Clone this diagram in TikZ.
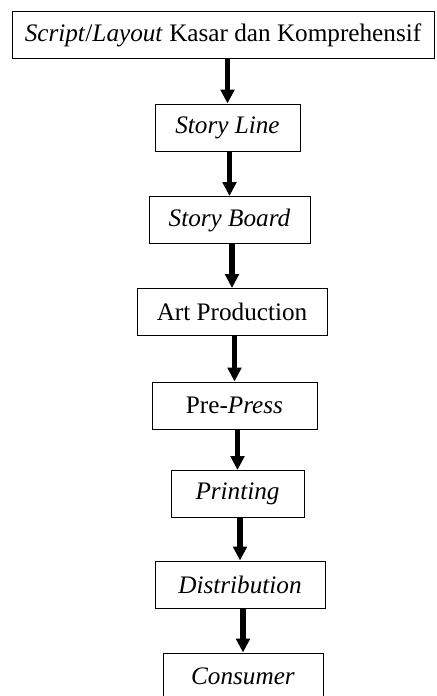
\documentclass[tikz,border=0pt]{standalone}
\usepackage{fontspec}
\setmainfont{Liberation Serif}
\usetikzlibrary{arrows.meta}

\tikzset{
	box/.style={draw, line width=0.5pt, inner sep=0pt, minimum height=23.5pt, font=\fontsize{12.6}{14}\selectfont},
	panah/.style={line width=2.6pt, -{Triangle[length=7pt 0, width=6.8pt 0]}}
}

\begin{document}
\begin{tikzpicture}[x=0.5pt, y=-0.5pt]
	%\draw[help lines] (0,0) grid[step=50] (436,696);
	\useasboundingbox (0,0) rectangle (436,696);
	\node[box, minimum width=211pt] (script) at (223,35) {\textit{Script}/\textit{Layout} Kasar dan Komprehensif};
	\node[box, minimum width=72.5pt] (storyline) at (227.5,127.5) {\textit{Story Line}};
	\node[box, minimum width=80.5pt] (storyboard) at (229.5,220) {\textit{Story Board}};
	\node[box, minimum width=95pt] (art) at (232,312) {Art Production};
	\node[box, minimum width=82.5pt] (prepress) at (234.5,405.5) {Pre-\textit{Press}};
	\node[box, minimum width=66.5pt] (printing) at (237.5,494) {\textit{Printing}};
	\node[box, minimum width=85pt] (distribution) at (240,584.5) {\textit{Distribution}};
	\node[box, minimum width=80pt] (consumer) at (243,676.5) {\textit{Consumer}};
	% panah antar tahap
	\draw[panah] (script.south -| storyline) -- (storyline.north);
	\draw[panah] (storyline.south -| storyboard) -- (storyboard.north);
	\draw[panah] (storyboard.south -| art) -- (art.north);
	\draw[panah] (art.south -| prepress) -- (prepress.north);
	\draw[panah] (prepress.south -| printing) -- (printing.north);
	\draw[panah] (printing.south -| distribution) -- (distribution.north);
	\draw[panah] (distribution.south -| consumer) -- (consumer.north);
\end{tikzpicture}
\end{document}
